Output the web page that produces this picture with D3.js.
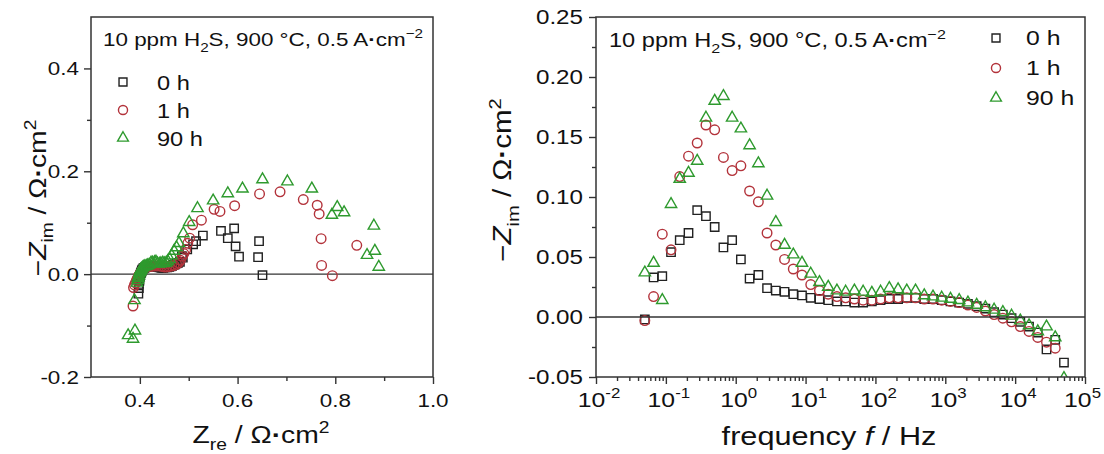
<!DOCTYPE html>
<html>
<head>
<meta charset="utf-8">
<script src="https://cdn.jsdelivr.net/npm/d3@7"></script>
<style>
  body { margin: 0; background: #fff; }
  svg { display: block; font-family: 'Liberation Sans', Arial, sans-serif; }
</style>
</head>
<body>
<div id="chart"></div>
<script>
const W = 1104, H = 454;
const SX = 1.18; // glyphs in the original are a bit wide, stretch text horizontally

// measurement frequencies, Hz
const freq = [0.05, 0.0667, 0.0889, 0.1186, 0.158, 0.211, 0.281, 0.375, 0.5, 0.667,
  0.889, 1.186, 1.58, 2.11, 2.81, 3.75, 5.0, 6.67, 8.89, 11.86,
  15.8, 21.1, 28.1, 37.5, 50, 66.7, 88.9, 118.6, 158, 211,
  281, 375, 500, 667, 889, 1186, 1581, 2109, 2812, 3750,
  5000, 6668, 8891, 11856, 15811, 21084, 28117, 37494, 50000, 66680,
  88910, 118560];

// 0 h
const zim0 = [-0.002, 0.033, 0.034, 0.054, 0.064, 0.070, 0.089, 0.084, 0.075, 0.058,
  0.064, 0.048, 0.032, 0.035, 0.024, 0.022, 0.021, 0.019, 0.018, 0.016,
  0.015, 0.014, 0.013, 0.013, 0.012, 0.012, 0.013, 0.014, 0.015, 0.015,
  0.016, 0.016, 0.015, 0.015, 0.014, 0.013, 0.012, 0.011, 0.009, 0.007,
  0.004, 0.002, -0.001, -0.004, -0.008, -0.013, -0.027, -0.019, -0.038];
const zre0 = [0.651, 0.642, 0.603, 0.596, 0.644, 0.580, 0.593, 0.566, 0.529, 0.509,
  0.515, 0.497, 0.488, 0.486, 0.482, 0.478, 0.475, 0.472, 0.469, 0.466,
  0.463, 0.460, 0.456, 0.452, 0.448, 0.444, 0.440, 0.436, 0.432, 0.428,
  0.425, 0.422, 0.419, 0.416, 0.413, 0.411, 0.409, 0.407, 0.405, 0.404,
  0.403, 0.402, 0.401, 0.400, 0.399, 0.399, 0.398, 0.398, 0.397];

// 1 h
const zim1 = [-0.003, 0.017, 0.069, 0.056, 0.117, 0.134, 0.145, 0.160, 0.156, 0.133,
  0.122, 0.126, 0.105, 0.096, 0.070, 0.060, 0.048, 0.040, 0.035, 0.027,
  0.022, 0.019, 0.017, 0.016, 0.015, 0.014, 0.014, 0.015, 0.016, 0.016,
  0.016, 0.016, 0.015, 0.015, 0.014, 0.013, 0.012, 0.010, 0.008, 0.005,
  0.002, -0.001, -0.004, -0.008, -0.012, -0.017, -0.021, -0.026, -0.062];
const zre1 = [0.794, 0.772, 0.771, 0.844, 0.767, 0.763, 0.7345, 0.687, 0.645, 0.594,
  0.564, 0.552, 0.526, 0.508, 0.502, 0.498, 0.494, 0.490, 0.487, 0.483,
  0.479, 0.475, 0.470, 0.465, 0.460, 0.455, 0.450, 0.445, 0.440, 0.435,
  0.430, 0.426, 0.422, 0.418, 0.415, 0.412, 0.409, 0.407, 0.405, 0.403,
  0.401, 0.399, 0.397, 0.395, 0.393, 0.391, 0.389, 0.387, 0.386];

// 90 h
const zim2 = [0.037, 0.045, 0.014, 0.094, 0.115, 0.120, 0.130, 0.166, 0.180, 0.184,
  0.166, 0.157, 0.143, 0.128, 0.101, 0.079, 0.060, 0.052, 0.045, 0.036,
  0.029, 0.025, 0.022, 0.021, 0.022, 0.021, 0.020, 0.021, 0.024, 0.023,
  0.022, 0.022, 0.018, 0.017, 0.016, 0.015, 0.014, 0.012, 0.010, 0.008,
  0.006, 0.004, 0.001, -0.003, -0.007, -0.012, -0.008, -0.017, -0.051, -0.110,
  -0.126, -0.119];
const zre2 = [0.865, 0.881, 0.889, 0.879, 0.793, 0.818, 0.804, 0.752, 0.702, 0.651,
  0.610, 0.580, 0.550, 0.518, 0.501, 0.489, 0.480, 0.475, 0.470, 0.465,
  0.461, 0.457, 0.454, 0.450, 0.447, 0.443, 0.440, 0.436, 0.433, 0.430,
  0.426, 0.423, 0.419, 0.416, 0.413, 0.410, 0.407, 0.405, 0.403, 0.402,
  0.401, 0.400, 0.399, 0.398, 0.397, 0.396, 0.396, 0.394, 0.389, 0.390,
  0.386, 0.376];

const seriesNames = ['0 h', '1 h', '90 h'];
const seriesColors = ['#222222', '#b3333b', '#2e9a2e'];
const seriesSymbols = [d3.symbolSquare, d3.symbolCircle, d3.symbolTriangle];
const symbolSizes = [70, 72, 56];
const zreAll = [zre0, zre1, zre2];
const zimAll = [zim0, zim1, zim2];

const nyqXTicks = [0.4, 0.6, 0.8, 1.0];
const nyqXMinor = [0.5, 0.7, 0.9];
const nyqYTicks = [-0.2, 0.0, 0.2, 0.4];
const nyqYMinor = [-0.1, 0.1, 0.3];
const bodeXTicks = [1e-2, 1e-1, 1e0, 1e1, 1e2, 1e3, 1e4, 1e5];
const bodeYTicks = [-0.05, 0.00, 0.05, 0.10, 0.15, 0.20, 0.25];
const bodeYMinor = [-0.025, 0.025, 0.075, 0.125, 0.175, 0.225];

const svg = d3.select('#chart')
  .append('svg')
  .attr('width', W)
  .attr('height', H);

// text with sub/superscripts, stretched by SX
function label(g, x, y, parts, o = {}) {
  const fs = o.size || 20;
  const t = g.append('text')
    .attr('transform', `translate(${x},${y})` + (o.rotate ? ` rotate(${o.rotate})` : '') + ` scale(${SX},1)`)
    .attr('font-size', fs)
    .attr('text-anchor', o.anchor || 'start')
    .attr('fill', '#111');
  let shift = 0;
  parts.forEach(p => {
    const s = Array.isArray(p) ? p[0] : p;
    const kind = Array.isArray(p) ? p[1] : '';
    const target = kind === 'sub' ? 0.3 * fs : kind === 'sup' ? -0.42 * fs : 0;
    const ts = t.append('tspan').text(s).attr('dy', target - shift);
    shift = target;
    if (kind === 'sub' || kind === 'sup') ts.attr('font-size', fs * 0.68);
    if (kind === 'i') ts.attr('font-style', 'italic');
    if (kind === 'b') ts.attr('font-weight', 'bold');
  });
  return t;
}

function styleAxis(g) {
  g.select('.domain').remove();
  g.selectAll('line').attr('stroke', '#333').attr('stroke-width', 1.4);
}

function drawFrame(g, x, y) {
  const [x0, x1] = x.range(), [y0, y1] = y.range();
  g.append('rect')
    .attr('x', x0).attr('y', y1)
    .attr('width', x1 - x0).attr('height', y0 - y1)
    .attr('fill', 'none').attr('stroke', '#333').attr('stroke-width', 1.5);
  g.append('line')
    .attr('x1', x0).attr('x2', x1)
    .attr('y1', y(0)).attr('y2', y(0))
    .attr('stroke', '#333').attr('stroke-width', 1.3);
}

function drawMarks(g, xs, ys, i, xFn, yFn) {
  const sym = d3.symbol().type(seriesSymbols[i]).size(symbolSizes[i]);
  const pts = xs.map((v, k) => [v, ys[k]]).filter(d => d[0] != null && d[1] != null);
  g.append('g').selectAll('path')
    .data(pts)
    .enter().append('path')
    .attr('d', sym)
    .attr('transform', d => `translate(${xFn(d[0])},${yFn(d[1])})`)
    .attr('fill', 'none')
    .attr('stroke', seriesColors[i])
    .attr('stroke-width', 1.4);
}

function drawLegend(g, sx, sy, tx, ty, dyStep, fs) {
  seriesNames.forEach((n, i) => {
    const sym = d3.symbol().type(seriesSymbols[i]).size(symbolSizes[i] * 0.9);
    g.append('path')
      .attr('d', sym)
      .attr('transform', `translate(${sx},${sy + i * dyStep})`)
      .attr('fill', 'none')
      .attr('stroke', seriesColors[i])
      .attr('stroke-width', 1.4);
    label(g, tx, ty + i * dyStep, [n], {size: fs});
  });
}

const annot = [['10 ppm H'], ['2', 'sub'], ['S, 900 °C, 0.5 A'], ['\u00B7', 'b'], ['cm'], ['\u22122', 'sup']];
const unitArea = [[' / \u03A9'], ['\u00B7', 'b'], ['cm'], ['2', 'sup']];

// ---------- left: Nyquist ----------
const xN = d3.scaleLinear().domain([0.3, 1.0]).range([91, 433]);
const yN = d3.scaleLinear().domain([-0.2, 0.5]).range([377, 17]);
const gL = svg.append('g');

gL.append('g').attr('transform', 'translate(0,377)')
  .call(d3.axisBottom(xN).tickValues(nyqXTicks).tickSize(7).tickFormat(''))
  .call(styleAxis);
gL.append('g').attr('transform', 'translate(0,377)')
  .call(d3.axisBottom(xN).tickValues(nyqXMinor).tickSize(4).tickFormat(''))
  .call(styleAxis);
gL.append('g').attr('transform', 'translate(91,0)')
  .call(d3.axisLeft(yN).tickValues(nyqYTicks).tickSize(7).tickFormat(''))
  .call(styleAxis);
gL.append('g').attr('transform', 'translate(91,0)')
  .call(d3.axisLeft(yN).tickValues(nyqYMinor).tickSize(4).tickFormat(''))
  .call(styleAxis);
drawFrame(gL, xN, yN);

nyqXTicks.forEach(v => label(gL, xN(v), 407, [v.toFixed(1)], {size: 19, anchor: 'middle'}));
nyqYTicks.forEach(v => label(gL, 79, yN(v) + 6.5, [v.toFixed(1)], {size: 19, anchor: 'end'}));

for (let i = 0; i < 3; i++) drawMarks(gL, zreAll[i], zimAll[i], i, xN, yN);

label(gL, 103, 46, annot, {size: 19});
drawLegend(gL, 123, 82, 157, 90, 28, 20);

label(gL, 261, 443, [['Z'], ['re', 'sub']].concat(unitArea), {size: 24, anchor: 'middle'});
label(gL, 46, 198, [['\u2212'], ['Z', 'i'], ['im', 'sub']].concat(unitArea), {size: 24, anchor: 'middle', rotate: -90});

// ---------- right: Bode (imaginary part) ----------
const xB = d3.scaleLog().domain([1e-2, 1e5]).range([596, 1085]);
const yB = d3.scaleLinear().domain([-0.05, 0.25]).range([377, 17]);
const gR = svg.append('g');

const minorLog = [];
for (let e = -2; e < 5; e++) for (let m = 2; m <= 9; m++) minorLog.push(m * Math.pow(10, e));

gR.append('g').attr('transform', 'translate(0,377)')
  .call(d3.axisBottom(xB).tickValues(bodeXTicks).tickSize(7).tickFormat(''))
  .call(styleAxis);
gR.append('g').attr('transform', 'translate(0,377)')
  .call(d3.axisBottom(xB).tickValues(minorLog).tickSize(4).tickFormat(''))
  .call(styleAxis);
gR.append('g').attr('transform', 'translate(596,0)')
  .call(d3.axisLeft(yB).tickValues(bodeYTicks).tickSize(7).tickFormat(''))
  .call(styleAxis);
gR.append('g').attr('transform', 'translate(596,0)')
  .call(d3.axisLeft(yB).tickValues(bodeYMinor).tickSize(4).tickFormat(''))
  .call(styleAxis);

svg.append('clipPath').attr('id', 'clipB')
  .append('rect').attr('x', 596).attr('y', 17).attr('width', 489).attr('height', 360);

const gRc = gR.append('g').attr('clip-path', 'url(#clipB)');
for (let i = 0; i < 3; i++) drawMarks(gRc, freq.slice(0, zimAll[i].length), zimAll[i], i, xB, yB);
drawFrame(gR, xB, yB);

bodeXTicks.forEach(v => {
  const e = Math.round(Math.log10(v));
  const last = v === 1e5;
  label(gR, last ? W - 3 : xB(v) + 3, 407, [['10'], [String(e), 'sup']],
    {size: 21, anchor: last ? 'end' : 'middle'});
});
bodeYTicks.forEach(v => label(gR, 583, yB(v) + 7, [v.toFixed(2)], {size: 20.5, anchor: 'end'}));

label(gR, 609, 47, annot, {size: 20});
drawLegend(gR, 996, 38, 1026, 45, 30, 21);

label(gR, 829, 445, [['frequency '], ['f', 'i'], [' / Hz']], {size: 26, anchor: 'middle'});
label(gR, 511, 180, [['\u2212'], ['Z', 'i'], ['im', 'sub']].concat(unitArea), {size: 25, anchor: 'middle', rotate: -90});
</script>
</body>
</html>
